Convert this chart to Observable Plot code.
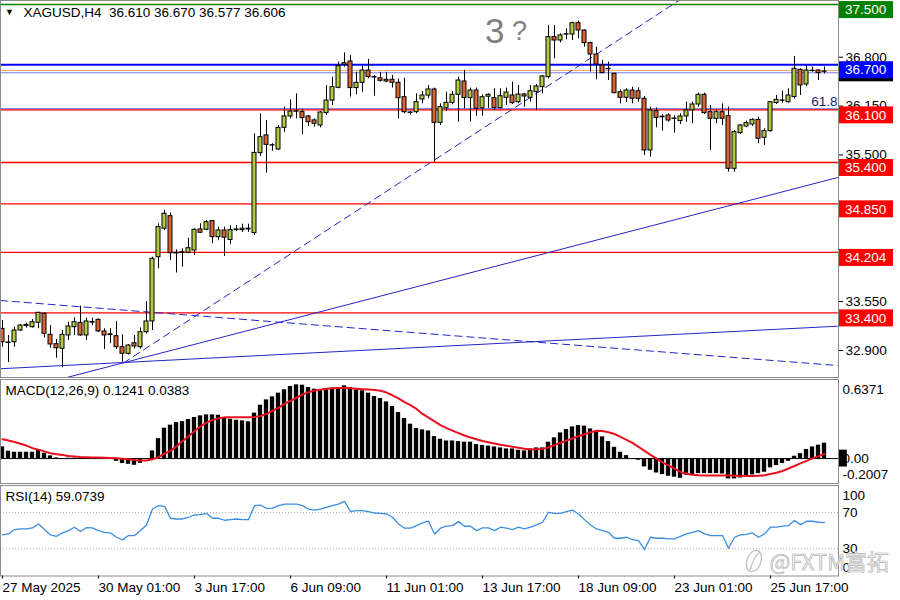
<!DOCTYPE html>
<html><head><meta charset="utf-8">
<script src="https://cdn.jsdelivr.net/npm/d3@7"></script>
<script src="https://cdn.jsdelivr.net/npm/@observablehq/plot@0.6"></script>
<style>
body{margin:0;background:#fff;}
#chart{position:relative;width:900px;height:600px;overflow:hidden;background:#fff;}
#chart svg{position:absolute;left:0;overflow:visible;}
</style></head><body><div id="chart"></div>
<script>
// ---------- DATA ----------
const symbolHeader = "XAGUSD,H4\u00a0\u00a036.610 36.670 36.577 36.606";
const open = [33.188,33.006,33.01,33.166,33.225,33.21,33.268,33.388,33.109,32.984,
32.923,33.1,33.21,33.268,33.1,33.27,33.308,33.153,33.115,33.09,
32.944,32.856,32.997,32.944,33.143,33.286,34.14,34.52,34.686,34.2,
34.207,34.2,34.23,34.51,34.505,34.62,34.407,34.496,34.37,34.5,
34.5,34.52,34.46,35.524,35.76,35.63,35.573,35.861,36.012,36.08,
36.07,36.012,35.96,35.892,36.056,36.224,36.393,36.70,36.743,36.389,
36.459,36.623,36.535,36.52,36.50,36.5,36.46,36.268,36.065,36.069,
36.238,36.29,36.371,35.927,36.12,36.193,36.30,36.477,36.256,36.357,
36.12,36.275,36.256,36.123,36.26,36.291,36.202,36.304,36.26,36.335,
36.402,36.535,37.067,37.022,37.10,37.102,37.253,37.155,36.987,36.836,
36.69,36.645,36.579,36.335,36.26,36.357,36.348,36.247,35.56,36.082,
36.0,36.025,35.98,35.95,36.012,36.092,36.171,36.30,36.069,35.98,
36.069,36.016,35.316,35.79,35.878,35.905,35.967,35.728,35.817,36.19,
36.22,36.202,36.269,36.632,36.437,36.62,36.623,36.610];
const high = [33.299,33.099,33.21,33.246,33.263,33.312,33.409,33.401,33.232,33.046,
33.166,33.276,33.335,33.489,33.33,33.33,33.32,33.189,33.189,33.286,
33.109,32.98,33.1,33.2,33.55,34.14,34.585,34.762,34.73,34.24,
34.252,34.393,34.52,34.585,34.63,34.63,34.54,34.54,34.56,34.56,
34.58,34.58,35.781,36.047,35.96,35.65,35.89,36.136,36.233,36.313,
36.11,36.025,35.98,36.08,36.424,36.535,36.734,36.858,36.823,36.601,
36.68,36.77,36.557,36.60,36.6,36.557,36.51,36.52,36.078,36.313,
36.344,36.424,36.389,36.18,36.335,36.344,36.535,36.623,36.389,36.39,
36.3,36.313,36.38,36.38,36.39,36.468,36.424,36.32,36.424,36.437,
36.557,37.222,37.222,37.111,37.177,37.266,37.28,37.164,37.0,36.934,
36.756,36.734,36.588,36.366,36.38,36.40,36.393,36.278,36.136,36.127,
36.04,36.047,36.025,36.047,36.202,36.202,36.322,36.322,36.157,36.1,
36.18,36.136,35.825,35.905,35.95,35.98,36.003,35.848,36.21,36.291,
36.349,36.38,36.81,36.646,36.69,36.668,36.632,36.670];
const low = [32.944,32.74,32.944,33.153,33.197,33.197,33.189,33.064,32.93,32.798,
32.67,33.033,33.1,33.09,33.033,33.23,33.14,32.913,32.99,32.913,
32.744,32.84,32.92,32.92,33.12,33.166,33.986,34.496,34.097,33.93,
34.008,34.186,34.163,34.46,34.496,34.32,34.36,34.15,34.31,34.48,
34.47,34.47,34.43,35.48,35.258,35.55,35.56,35.80,35.98,35.98,
35.77,35.879,35.87,35.861,36.025,36.158,36.38,36.668,36.269,36.30,
36.335,36.513,36.282,36.468,36.46,36.39,35.98,36.047,36.034,36.047,
36.18,36.247,35.396,35.892,36.078,36.167,35.936,36.114,35.936,36.016,
36.016,36.12,36.09,36.114,36.16,36.171,36.18,36.136,36.202,36.091,
36.313,36.513,36.779,36.991,37.031,37.022,37.044,36.934,36.601,36.499,
36.58,36.49,36.313,36.18,36.2,36.18,36.2,35.493,35.471,35.861,
35.817,35.936,35.79,35.905,35.936,35.914,36.136,36.038,35.56,35.914,
35.892,35.271,35.271,35.772,35.86,35.878,35.648,35.626,35.803,36.171,
36.19,36.19,36.247,36.291,36.41,36.6,36.49,36.577];
const close = [33.011,33.0,33.166,33.232,33.24,33.276,33.401,33.122,32.98,32.93,
33.109,33.219,33.276,33.1,33.286,33.28,33.153,33.1,33.105,32.944,
32.856,32.966,32.953,33.143,33.286,34.12,34.54,34.718,34.194,34.19,
34.2,34.26,34.505,34.465,34.606,34.407,34.496,34.4,34.5,34.51,
34.52,34.51,35.528,35.737,35.635,35.625,35.861,36.012,36.078,36.075,
35.99,35.936,35.914,36.065,36.224,36.402,36.681,36.72,36.389,36.459,
36.623,36.535,36.53,36.486,36.477,36.46,36.255,36.069,36.06,36.202,
36.291,36.371,35.927,36.136,36.193,36.30,36.49,36.256,36.357,36.114,
36.268,36.3,36.123,36.282,36.33,36.189,36.304,36.278,36.348,36.411,
36.544,37.067,37.022,37.089,37.105,37.253,37.155,36.987,36.836,36.703,
36.588,36.64,36.322,36.26,36.357,36.247,36.247,35.56,36.091,35.994,
36.01,35.958,35.985,36.012,36.092,36.171,36.30,36.056,35.981,36.069,
35.981,35.316,35.803,35.892,35.923,35.967,35.715,35.817,36.202,36.233,
36.225,36.291,36.646,36.424,36.623,36.615,36.588,36.606];
const macdHist = [0.094,0.059,0.051,0.051,0.051,0.051,0.065,0.043,0.022,0.005,
-0.005,0.003,0.003,0.003,0.005,0.005,0.005,0.0,-0.005,-0.022,
-0.04,-0.046,-0.054,-0.038,-0.005,0.062,0.161,0.245,0.269,0.29,
0.298,0.315,0.331,0.344,0.352,0.352,0.349,0.323,0.317,0.309,
0.304,0.296,0.366,0.43,0.473,0.497,0.527,0.554,0.581,0.594,
0.591,0.573,0.559,0.554,0.559,0.567,0.573,0.586,0.573,0.554,
0.546,0.527,0.5,0.484,0.457,0.419,0.371,0.323,0.277,0.242,
0.231,0.223,0.177,0.156,0.142,0.142,0.137,0.132,0.132,0.113,
0.105,0.1,0.094,0.086,0.078,0.078,0.067,0.062,0.078,0.086,
0.086,0.132,0.167,0.207,0.234,0.255,0.266,0.261,0.239,0.212,
0.175,0.137,0.091,0.051,0.024,0.0,-0.013,-0.067,-0.094,-0.116,
-0.129,-0.142,-0.15,-0.159,-0.134,-0.129,-0.121,-0.121,-0.121,-0.121,
-0.124,-0.164,-0.164,-0.156,-0.137,-0.132,-0.121,-0.11,-0.075,-0.056,
-0.04,-0.022,0.019,0.04,0.073,0.094,0.108,0.1241];
const macdSignal = [0.156,0.145,0.134,0.12,0.105,0.084,0.072,0.058,0.043,0.035,
0.028,0.02,0.016,0.012,0.01,0.008,0.008,0.006,0.004,0.002,
-0.002,-0.006,-0.011,-0.015,-0.016,-0.005,0.012,0.04,0.062,0.1,
0.14,0.18,0.22,0.26,0.29,0.31,0.325,0.332,0.333,0.334,
0.333,0.332,0.335,0.342,0.36,0.385,0.41,0.44,0.465,0.49,
0.515,0.535,0.548,0.555,0.562,0.566,0.569,0.568,0.566,0.562,
0.559,0.557,0.553,0.546,0.532,0.51,0.485,0.455,0.43,0.4,
0.36,0.33,0.3,0.27,0.245,0.225,0.205,0.186,0.17,0.156,
0.142,0.132,0.122,0.112,0.104,0.095,0.088,0.08,0.074,0.076,
0.078,0.09,0.108,0.128,0.145,0.162,0.18,0.196,0.212,0.224,
0.222,0.212,0.198,0.175,0.15,0.126,0.095,0.062,0.03,0.0,
-0.03,-0.055,-0.08,-0.108,-0.122,-0.13,-0.134,-0.136,-0.137,-0.137,
-0.137,-0.137,-0.138,-0.139,-0.14,-0.14,-0.138,-0.135,-0.125,-0.114,
-0.1,-0.08,-0.06,-0.038,-0.018,0.002,0.02,0.0383];
const rsiValues = [45.4,46.5,51.3,52,52,53.1,57.5,51.3,45.4,43.9,
47.6,50.2,53.9,49.1,53.5,53.1,50.2,48.3,47.6,42.8,
39.9,44.7,44.7,50.2,56.4,74,77.7,77,63.8,63,
63,64.9,67.4,67.8,69.3,63.8,63.8,61.6,62.3,63,
62.3,62.3,77.7,78.4,74.8,75.1,77.7,79.5,79.5,79.5,
77.7,74,72.9,74,75.9,77.7,79.5,82.5,71.1,72.2,
72.2,71.1,69.6,69.3,68.5,64.9,57.5,52.8,52.8,55.7,
58.6,60.5,46.5,52.8,55,55.7,60.1,55,55,50.2,
53.1,53.1,50.2,53.9,52.8,51.3,53.9,52,53.9,56.4,
59.4,70.4,69.3,69.3,71.1,72.9,68.5,62.3,56.4,52,
50.2,48.3,41.7,41.7,42.8,40.3,39.2,29.3,42.8,41.7,
41.7,41,41,43.9,46.5,48.3,50.2,46.5,44.7,44.7,
44.7,30.7,42.8,45.4,46.1,47.6,42.8,46.5,53.9,53.9,
55,55.7,61.2,56.8,60.5,60.5,59.4,59.0739];

const timeTickIndex = [0,16,32,48,64,80,96,112,128];
const timeTickLabels = ["27 May 2025","30 May 01:00","3 Jun 17:00","6 Jun 09:00","11 Jun 01:00","13 Jun 17:00","18 Jun 09:00","23 Jun 01:00","25 Jun 17:00"];
const priceTicks = [36.8, 36.15, 35.5, 33.55, 32.9];
const levelValues = [37.5, 36.7, 36.623, 36.593, 36.113, 36.1, 35.4, 34.85, 34.204, 33.4];
const levelColors = ["#008000","#0000ff","#f0a888","#7b7be6","#4848d8","#ff0000","#ff0000","#ff0000","#ff0000","#ff0000"];
const levelWidths = [1.5, 2, 1, 1, 1, 1.3, 1.3, 1.3, 1.3, 1.3];
const currentPrice = 36.606;             // black bid box, mostly hidden behind the 36.700 box
const boxValues = [37.5, 36.7, 36.1, 35.4, 34.85, 34.204, 33.4];
const boxColors = ["#008000","#0000ff","#ff0000","#ff0000","#ff0000","#ff0000","#ff0000"];
const fibLabel = {value: 36.113, text: "61.8"};
// trend lines: [bar index, price, bar index, price]
const trendSolid = [[-0.45, 32.657, 139.2, 33.223], [10.67, 32.54, 139.2, 35.20]];
const trendDashed = [[-0.45, 33.565, 139.2, 32.70], [20.1, 32.731, 113.5, 37.594]];
const waveNote = {bar: 80.4, price: 37.142, main: "3", mark: "?"};
const macdTitle = "MACD(12,26,9) 0.1241 0.0383";
const macdMax = 0.6371, macdMin = -0.2007;
const rsiTitle = "RSI(14) 59.0739";
const rsiLevels = [70, 30];
const watermark = "@FXTM富拓";

// ---------- CHART ----------
const FONT = '"Liberation Sans", Arial, sans-serif';
const FS = 13.5;
const W = 900, MR = 62;
const XD = [-1/3, 139 + 1/3];
const BULL = "#b5cb3f", BEAR = "#dc6430";
const TL = "#2424c8";

const bars = close.map((c, i) => ({i, o: open[i], h: high[i], l: low[i], c}));
const macdRows = macdHist.map((v, i) => ({i, v}));
const sigRows = macdSignal.map((v, i) => ({i, v}));
const rsiRows = rsiValues.map((v, i) => ({i, v}));
const toSeg = a => ({x1: a[0], y1: a[1], x2: a[2], y2: a[3]});

function boxesMark() {
  return (index, scales, values, dim) => {
    const x0 = dim.width - dim.marginRight + 1;
    const g = d3.create("svg:g").attr("font-family", FONT).attr("font-size", FS).attr("text-anchor", "start");
    g.append("rect").attr("x", x0).attr("y", scales.y(currentPrice) - 7).attr("width", 54).attr("height", 17).attr("fill", "#000");
    boxValues.forEach((v, k) => {
      const top = scales.y(v) - 3;
      g.append("rect").attr("x", x0).attr("y", top).attr("width", 54).attr("height", 17).attr("fill", boxColors[k]);
      g.append("text").attr("x", x0 + 6).attr("y", top + 8.5).attr("dy", "0.35em").attr("fill", "#fff").text(v.toFixed(3));
    });
    return g.node();
  };
}

const common = {
  width: W, marginLeft: 0, marginRight: MR,
  x: {domain: XD, axis: null},
  color: {type: "identity"},
  style: {fontFamily: FONT, fontSize: FS + "px", background: "transparent", overflow: "visible"}
};
const rightLabel = (vals, dy, fmt) => Plot.text(vals, {y: d => d, text: fmt, frameAnchor: "right", textAnchor: "start",
  lineAnchor: "middle", dx: 4, dy, fontSize: FS, fill: "#000"});

const main = Plot.plot({
  ...common, height: 377, marginTop: 0, marginBottom: 0,
  y: {domain: [32.541, 37.554], axis: null},
  marks: [
    ...levelValues.map((v, k) => Plot.ruleY([v], {stroke: levelColors[k], strokeWidth: levelWidths[k]})),
    Plot.link(trendSolid.map(toSeg), {x1: "x1", y1: "y1", x2: "x2", y2: "y2", stroke: TL, strokeWidth: 1, clip: true}),
    Plot.link(trendDashed.map(toSeg), {x1: "x1", y1: "y1", x2: "x2", y2: "y2", stroke: TL, strokeWidth: 1, strokeDasharray: "8,4", clip: true}),
    Plot.ruleX(bars, {x: "i", y1: "l", y2: "h", stroke: "#000", strokeWidth: 1}),
    Plot.rect(bars, {x1: d => d.i - 1/3, x2: d => d.i + 1/3,
      y1: d => Math.min(d.o, d.c), y2: d => Math.max(d.o, d.c),
      fill: d => d.c >= d.o ? BULL : BEAR, stroke: "#000", strokeWidth: 1}),
    Plot.frame({stroke: "#8a8a8a"}),
    Plot.axisY(priceTicks, {anchor: "right", tickFormat: d => d.toFixed(3), tickSize: 4, tickPadding: 3, fontSize: FS, fill: "#000", label: null}),
    boxesMark(),
    Plot.text([symbolHeader], {frameAnchor: "top-left", dx: 23, dy: 12.5, lineAnchor: "middle", fontSize: FS, fill: "#000"}),
    Plot.text(["▼"], {frameAnchor: "top-left", dx: 9, dy: 12, lineAnchor: "middle", textAnchor: "middle", fontSize: 9, fill: "#000"}),
    Plot.text([waveNote], {x: "bar", y: "price", text: "main", textAnchor: "start", lineAnchor: "middle", fontSize: 35, fill: "#808080"}),
    Plot.text([waveNote], {x: d => d.bar + 4.5, y: "price", text: "mark", textAnchor: "start", lineAnchor: "middle", fontSize: 27, fill: "#808080"}),
    Plot.text([fibLabel], {y: "value", text: "text", frameAnchor: "right", textAnchor: "end", lineAnchor: "middle", dx: -1, dy: -7, fontSize: FS, fill: "#1b1b78"})
  ]
});

const macdPlot = Plot.plot({
  ...common, height: 106, marginTop: 1, marginBottom: 1,
  y: {domain: [macdMin, macdMax], axis: null},
  marks: [
    Plot.ruleY([0], {stroke: "#000", strokeWidth: 1}),
    Plot.rect(macdRows, {x1: d => d.i - 0.36, x2: d => d.i + 0.36, y1: 0, y2: "v", fill: "#000"}),
    Plot.line(sigRows, {x: "i", y: "v", stroke: "#e8101e", strokeWidth: 2}),
    Plot.frame({stroke: "#8a8a8a"}),
    Plot.text([macdTitle], {frameAnchor: "top-left", dx: 5, dy: 11, lineAnchor: "middle", fontSize: FS, fill: "#000"}),
    Plot.rect([0], {x1: 139.5, x2: 140.8, y1: d => d - 0.068, y2: d => d + 0.068, fill: "#000"}),
    rightLabel([macdMax], 10, d => d.toFixed(4)),
    rightLabel([0], 0, d => d.toFixed(2)),
    rightLabel([macdMin], -9, d => d.toFixed(4))
  ]
});

const rsiPlot = Plot.plot({
  ...common, height: 116, marginTop: 1, marginBottom: 24.5,
  y: {domain: [0, 100], axis: null},
  marks: [
    Plot.ruleY(rsiLevels, {stroke: "#a8a8a8", strokeDasharray: "1,2"}),
    Plot.line(rsiRows, {x: "i", y: "v", stroke: "#3a8de0", strokeWidth: 1.3}),
    Plot.frame({stroke: "#8a8a8a"}),
    Plot.text([rsiTitle], {frameAnchor: "top-left", dx: 5, dy: 11.5, lineAnchor: "middle", fontSize: FS, fill: "#000"}),
    rightLabel([100], 10, String),
    rightLabel(rsiLevels, 0, String),
    rightLabel([0], -8, String),
    Plot.axisX(timeTickIndex, {anchor: "bottom", tickFormat: d => timeTickLabels[timeTickIndex.indexOf(d)], textAnchor: "start",
      tickSize: 3, tickPadding: 3, fontSize: FS, fill: "#000", label: null}),
    Plot.text([watermark], {frameAnchor: "top-left", dx: 769, dy: 77, lineAnchor: "middle", fontSize: 22, fontFamily: '"Noto Sans CJK SC", sans-serif',
      fill: "#f3f3f3", stroke: "#b4b4b4", strokeWidth: 0.7, paintOrder: "fill"}),
    (index, scales, values, dim) => {
      const g = d3.create("svg:g");
      g.append("ellipse").attr("cx", 754).attr("cy", 77).attr("rx", 7).attr("ry", 11)
        .attr("transform", "rotate(20 754 77)").attr("fill", "none").attr("stroke", "#c4c4c4").attr("stroke-width", 1.4);
      g.append("path").attr("d", "M750 86 Q754 72 760 68").attr("fill", "none").attr("stroke", "#c4c4c4").attr("stroke-width", 1.4);
      return g.node();
    }
  ]
});

const chart = document.getElementById("chart");
[[main, 0], [macdPlot, 378], [rsiPlot, 484]].forEach(([el, top]) => {
  el.style.top = top + "px";
  chart.appendChild(el);
});
</script>
</body></html>
